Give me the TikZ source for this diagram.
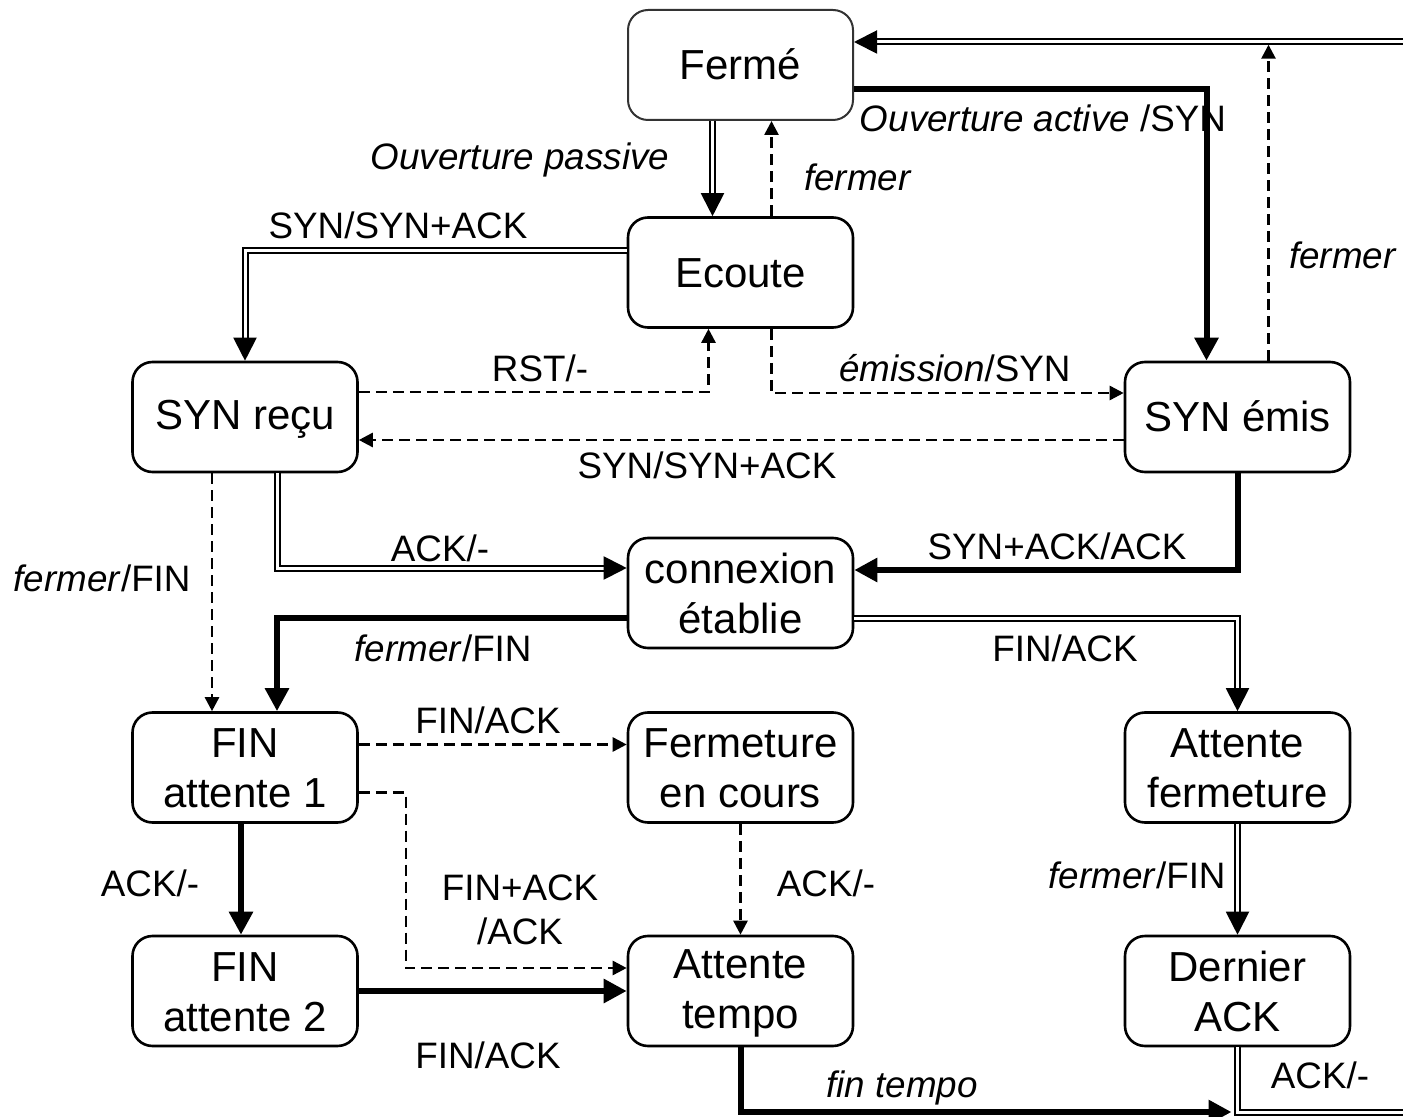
\documentclass[tikz,border=0pt]{standalone}
\usepackage{fontspec}
\setmainfont{Liberation Sans}
\usetikzlibrary{arrows.meta,calc}

% uniform line height inside the state boxes
\newcommand{\stln}{\rule[-2pt]{0pt}{19pt}}

\begin{document}
\begin{tikzpicture}[x=0.5pt,y=-0.5pt,
  state/.style={draw, rounded corners=10pt, line width=1.3pt, minimum width=112.5pt,
    minimum height=55pt, align=center, inner sep=2pt,
    font=\fontsize{21}{25}\selectfont},
  lbl/.style={align=center, inner sep=0pt, font=\fontsize{18.4}{22}\selectfont},
  tipbig/.style={-{Triangle[length=11.5pt,width=11.5pt]}},
  tipsmall/.style={-{Triangle[length=7pt,width=7pt]}},
  dbl/.style={double, line width=1pt, double distance=1.5pt, tipbig},
  boldline/.style={line width=3pt, line join=miter, tipbig},
  dsh/.style={line width=1.3pt, dash pattern=on 5.5pt off 3pt, tipsmall}
]
\useasboundingbox (0,0) rectangle (1403,1117);
\clip (0,0) rectangle (1403,1117);

% states
\node[state, line width=1pt, draw=black!80] (ferme) at (740.5,65) {\stln Fermé};
\node[state] (ecoute)    at (740.5,272.5)  {\stln Ecoute};
\node[state] (synrecu)   at (245,417)      {\stln SYN reçu};
\node[state] (synemis)   at (1237.5,417)   {\stln SYN émis};
\node[state] (conn)      at (740.5,593)    {\stln connexion\\\stln établie};
\node[state] (fin1)      at (245,767.5)    {\stln FIN\\\stln attente 1};
\node[state] (fermcours) at (740.5,767.5)  {\stln Fermeture\\\stln en cours};
\node[state] (attferm)   at (1237.5,767.5) {\stln Attente\\\stln fermeture};
\node[state] (fin2)      at (245,991)      {\stln FIN\\\stln attente 2};
\node[state] (tempo)     at (740.5,991)    {\stln Attente\\\stln tempo};
\node[state] (dernier)   at (1237.5,991)   {\stln Dernier\\\stln ACK};

% junction where the timeout path meets the return line
\coordinate (junction) at (1237.5,1112);

% opening
\draw[dbl] ($(ferme.south)+(-28,0)$) -- ($(ecoute.north)+(-28,0)$);
\draw[dsh] ($(ecoute.north)+(31,0)$) -- ($(ferme.south)+(31,0)$);
\draw[boldline] ($(ferme.east)+(0,24)$) -| ($(synemis.north)+(-31,0)$);
\draw[dsh] ($(synemis.north)+(31,0)$) -- ($(synemis.north)+(31,-316)$);
\draw[dbl] ($(ecoute.west)+(0,-22)$) -| (synrecu.north);
\draw[dsh] ($(synrecu.east)+(0,-25)$) -| ($(ecoute.south)+(-32,0)$);
\draw[dsh] ($(ecoute.south)+(31,0)$) |- ($(synemis.west)+(0,-24)$);
\draw[dsh] ($(synemis.west)+(0,23)$) -- ($(synrecu.east)+(0,23)$);
\draw[dbl] ($(synrecu.south)+(32,0)$) |- ($(conn.west)+(0,-25)$);
\draw[boldline] (synemis.south) |- ($(conn.east)+(0,-23)$);

% closing
\draw[dsh] ($(synrecu.south)+(-33,0)$) -- ($(fin1.north)+(-33,0)$);
\draw[boldline] ($(conn.west)+(0,25)$) -| ($(fin1.north)+(32,0)$);
\draw[dbl] ($(conn.east)+(0,25)$) -| (attferm.north);
\draw[dsh] ($(fin1.east)+(0,-23)$) -- ($(fermcours.west)+(0,-23)$);
\draw[dsh] ($(fin1.east)+(0,25)$) -- ++(47,0) |- ($(tempo.west)+(0,-23)$);
\draw[dsh] (fermcours.south) -- (tempo.north);
\draw[boldline] ($(fin1.south)+(-4,0)$) -- ($(fin2.north)+(-4,0)$);
\draw[boldline] (fin2.east) -- (tempo.west);
\draw[dbl] (attferm.south) -- (dernier.north);
\draw[boldline, shorten >=3pt] (tempo.south) |- (junction);
\draw[dbl] (dernier.south) |- (1430,1112) |- ($(ferme.east)+(0,-23)$);

% labels
\node[lbl] (l1)  at (520,160)  {\textit{Ouverture passive}};
\node[lbl] (l2)  at (858,177)  {\textit{fermer}};
\node[lbl] (l3)  at (1043,118) {\textit{Ouverture active} /SYN};
\node[lbl] (l4)  at (1343,255) {\textit{fermer}};
\node[lbl] (l5)  at (398,225)  {SYN/SYN+ACK};
\node[lbl] (l6)  at (540,368)  {RST/-};
\node[lbl] (l7)  at (955,368)  {\textit{émission}/SYN};
\node[lbl] (l8)  at (707,465)  {SYN/SYN+ACK};
\node[lbl] (l9)  at (440,548)  {ACK/-};
\node[lbl] (l10) at (1057,546) {SYN+ACK/ACK};
\node[lbl] (l11) at (102,578)  {\textit{fermer}/FIN};
\node[lbl] (l12) at (443,648)  {\textit{fermer}/FIN};
\node[lbl] (l13) at (1065,648) {FIN/ACK};
\node[lbl] (l14) at (488,720)  {FIN/ACK};
\node[lbl] (l15) at (520,910)  {FIN+ACK\\/ACK};
\node[lbl] (l16) at (826,883)  {ACK/-};
\node[lbl] (l17) at (150,883)  {ACK/-};
\node[lbl] (l18) at (488,1055) {FIN/ACK};
\node[lbl] (l19) at (1137,875) {\textit{fermer}/FIN};
\node[lbl] (l20) at (902,1088) {\textit{fin tempo}};
\node[lbl] (l21) at (1320,1075) {ACK/-};
\end{tikzpicture}
\end{document}
